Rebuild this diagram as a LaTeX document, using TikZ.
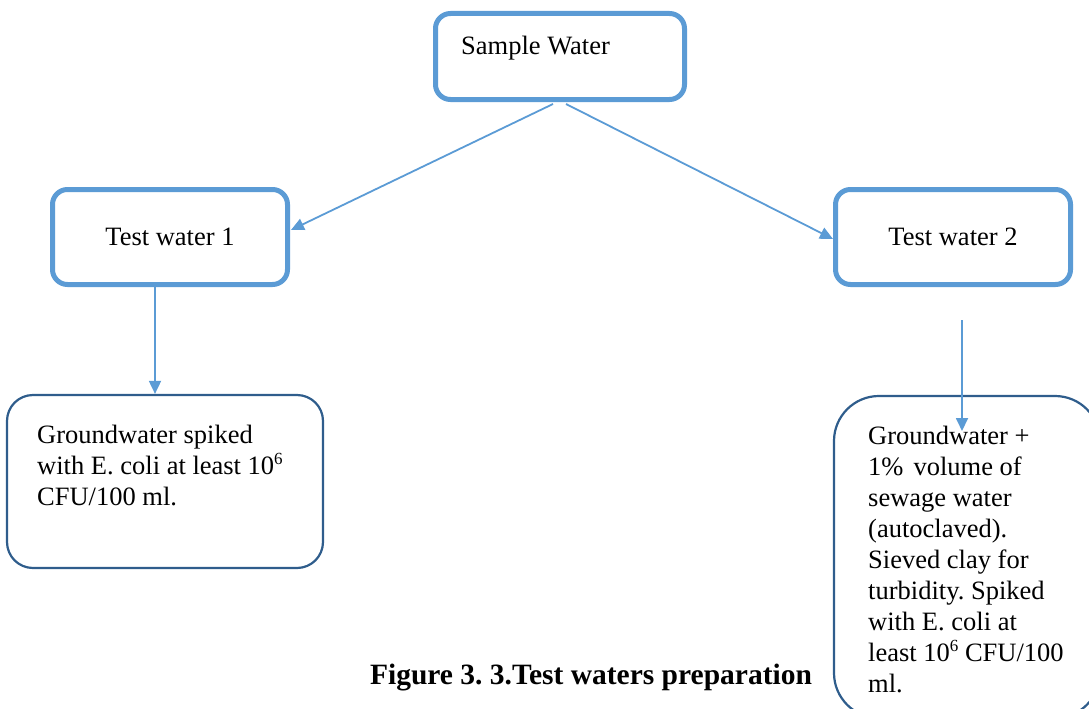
\documentclass[tikz,border=0pt]{standalone}
\usepackage{fontspec}
\setmainfont{Liberation Serif}
\usetikzlibrary{arrows.meta,calc}
\definecolor{lblue}{HTML}{5B9BD5}
\definecolor{dblue}{HTML}{2F5D8C}
\newcommand{\supsix}{\raisebox{0.75ex}{\fontsize{17}{17}\selectfont 6}}
\frenchspacing
\begin{document}
\begin{tikzpicture}[x=1pt,y=-1pt,
  bluebox/.style={draw=lblue,line width=5pt,rounded corners=15pt,fill=white,inner sep=0pt},
  darkbox/.style={draw=dblue,line width=2.2pt,fill=white,inner sep=0pt},
  arr/.style={draw=lblue,line width=1.8pt,-{Triangle[length=13pt,width=12pt]}},
  txt/.style={font=\fontsize{26.5}{31}\selectfont,inner sep=0pt,align=left},
  every node/.style={font=\fontsize{26.5}{31}\selectfont}]
\useasboundingbox (0,0) rectangle (1089,709);
% boxes
\node[bluebox,minimum width=249pt,minimum height=86pt] (sw) at (560,56.5) {};
\node[txt,anchor=base west] (swt) at (461,55) {Sample Water};
\node[bluebox,minimum width=235pt,minimum height=95pt] (tw1) at (170,237) {Test water 1};
\node[bluebox,minimum width=235pt,minimum height=95pt] (tw2) at (953,237) {Test water 2};
\node[darkbox,rounded corners=26pt,minimum width=316pt,minimum height=173pt] (gw1) at (165,481.5) {};
\node[txt,anchor=base west] (gw1t) at (37,505) {Groundwater spiked\\with E. coli at least 10\supsix\\CFU/100 ml.};
\node[darkbox,rounded corners=45pt,minimum width=266pt,minimum height=322pt] (gw2) at (967,557) {};
\node[txt,anchor=base west] (gw2t) at (868,692) {Groundwater +\\1\%\hspace{10pt}volume of\\sewage water\\(autoclaved).\\Sieved clay for\\turbidity. Spiked\\with E. coli at\\least 10\supsix\ CFU/100\\ml.};
\node[inner sep=0pt,anchor=base,font=\fontsize{29.5}{34}\selectfont\bfseries] (cap) at (591,684) {Figure 3. 3.Test waters preparation};
% connectors
\coordinate (s1) at (553,104);
\coordinate (s2) at (566,104);
\coordinate (e1) at (291,230);
\coordinate (e2) at (833,239);
\coordinate (a3) at (155,0);
\coordinate (a4s) at (962,320);
\coordinate (a4e) at (962,431);
\draw[arr] (s1) -- (e1);
\draw[arr] (s2) -- (e2);
\draw[arr] (tw1.south -| a3) -- (gw1.north -| a3);
\draw[arr] (a4s) -- (a4e);
\end{tikzpicture}
\end{document}
